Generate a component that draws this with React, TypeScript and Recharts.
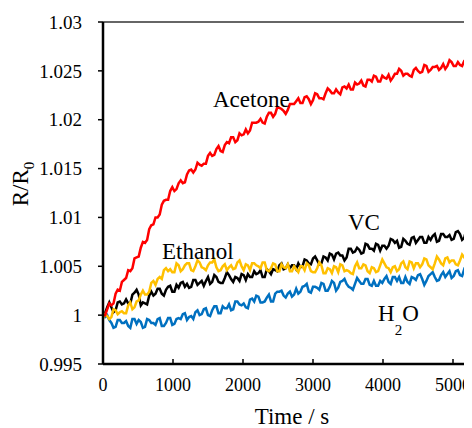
import { LineChart, Line, XAxis, YAxis, ReferenceLine } from 'recharts';

const FONT = '"Liberation Serif", "Times New Roman", serif';

// time in seconds, 30 s sampling
const times = [
  0, 30, 60, 90, 120, 150, 180, 210, 240, 270,
  300, 330, 360, 390, 420, 450, 480, 510, 540, 570,
  600, 630, 660, 690, 720, 750, 780, 810, 840, 870,
  900, 930, 960, 990, 1020, 1050, 1080, 1110, 1140, 1170,
  1200, 1230, 1260, 1290, 1320, 1350, 1380, 1410, 1440, 1470,
  1500, 1530, 1560, 1590, 1620, 1650, 1680, 1710, 1740, 1770,
  1800, 1830, 1860, 1890, 1920, 1950, 1980, 2010, 2040, 2070,
  2100, 2130, 2160, 2190, 2220, 2250, 2280, 2310, 2340, 2370,
  2400, 2430, 2460, 2490, 2520, 2550, 2580, 2610, 2640, 2670,
  2700, 2730, 2760, 2790, 2820, 2850, 2880, 2910, 2940, 2970,
  3000, 3030, 3060, 3090, 3120, 3150, 3180, 3210, 3240, 3270,
  3300, 3330, 3360, 3390, 3420, 3450, 3480, 3510, 3540, 3570,
  3600, 3630, 3660, 3690, 3720, 3750, 3780, 3810, 3840, 3870,
  3900, 3930, 3960, 3990, 4020, 4050, 4080, 4110, 4140, 4170,
  4200, 4230, 4260, 4290, 4320, 4350, 4380, 4410, 4440, 4470,
  4500, 4530, 4560, 4590, 4620, 4650, 4680, 4710, 4740, 4770,
  4800, 4830, 4860, 4890, 4920, 4950, 4980, 5010, 5040, 5070,
  5100, 5130, 5160, 5190, 5220, 5250, 5280,
];

const acetone = [
  1.0000, 1.0000, 1.0006, 1.0012, 1.0010, 1.0012, 1.0022, 1.0026, 1.0025, 1.0034,
  1.0036, 1.0038, 1.0046, 1.0045, 1.0048, 1.0058, 1.0059, 1.0060, 1.0069, 1.0075,
  1.0074, 1.0077, 1.0088, 1.0092, 1.0093, 1.0100, 1.0100, 1.0103, 1.0113, 1.0117,
  1.0118, 1.0118, 1.0127, 1.0131, 1.0127, 1.0129, 1.0135, 1.0138, 1.0135, 1.0136,
  1.0144, 1.0148, 1.0149, 1.0146, 1.0149, 1.0156, 1.0154, 1.0153, 1.0155, 1.0155,
  1.0163, 1.0166, 1.0163, 1.0164, 1.0170, 1.0173, 1.0168, 1.0167, 1.0174, 1.0177,
  1.0176, 1.0182, 1.0182, 1.0177, 1.0179, 1.0186, 1.0184, 1.0185, 1.0190, 1.0186,
  1.0189, 1.0197, 1.0197, 1.0197, 1.0198, 1.0201, 1.0197, 1.0196, 1.0203, 1.0207,
  1.0207, 1.0203, 1.0206, 1.0213, 1.0212, 1.0211, 1.0209, 1.0206, 1.0210, 1.0216,
  1.0216, 1.0216, 1.0219, 1.0222, 1.0217, 1.0217, 1.0223, 1.0224, 1.0221, 1.0216,
  1.0220, 1.0227, 1.0226, 1.0222, 1.0222, 1.0221, 1.0227, 1.0232, 1.0230, 1.0227,
  1.0227, 1.0231, 1.0228, 1.0226, 1.0233, 1.0234, 1.0232, 1.0236, 1.0231, 1.0231,
  1.0238, 1.0236, 1.0237, 1.0240, 1.0235, 1.0234, 1.0241, 1.0241, 1.0239, 1.0245,
  1.0244, 1.0239, 1.0239, 1.0245, 1.0243, 1.0242, 1.0246, 1.0240, 1.0243, 1.0247,
  1.0247, 1.0252, 1.0250, 1.0245, 1.0247, 1.0247, 1.0245, 1.0244, 1.0251, 1.0253,
  1.0250, 1.0248, 1.0249, 1.0256, 1.0255, 1.0249, 1.0251, 1.0254, 1.0254, 1.0255,
  1.0251, 1.0253, 1.0257, 1.0252, 1.0255, 1.0261, 1.0259, 1.0255, 1.0255, 1.0259,
  1.0256, 1.0255, 1.0260, 1.0262, 1.0255, 1.0256, 1.0260,
];

const vc = [
  1.0000, 1.0002, 1.0008, 1.0013, 1.0008, 1.0003, 1.0005, 1.0013, 1.0014, 1.0011,
  1.0012, 1.0016, 1.0012, 1.0012, 1.0021, 1.0023, 1.0026, 1.0021, 1.0010, 1.0013,
  1.0012, 1.0011, 1.0020, 1.0024, 1.0020, 1.0022, 1.0027, 1.0027, 1.0022, 1.0020,
  1.0026, 1.0029, 1.0030, 1.0024, 1.0024, 1.0031, 1.0028, 1.0033, 1.0034, 1.0029,
  1.0032, 1.0028, 1.0029, 1.0036, 1.0036, 1.0031, 1.0033, 1.0035, 1.0030, 1.0035,
  1.0039, 1.0032, 1.0034, 1.0041, 1.0039, 1.0034, 1.0033, 1.0033, 1.0038, 1.0044,
  1.0041, 1.0037, 1.0034, 1.0039, 1.0038, 1.0035, 1.0042, 1.0041, 1.0036, 1.0042,
  1.0039, 1.0039, 1.0045, 1.0042, 1.0043, 1.0046, 1.0039, 1.0039, 1.0047, 1.0045,
  1.0042, 1.0047, 1.0046, 1.0045, 1.0051, 1.0053, 1.0047, 1.0048, 1.0052, 1.0048,
  1.0051, 1.0051, 1.0047, 1.0053, 1.0049, 1.0050, 1.0057, 1.0056, 1.0053, 1.0052,
  1.0058, 1.0060, 1.0056, 1.0052, 1.0053, 1.0060, 1.0059, 1.0056, 1.0063, 1.0062,
  1.0057, 1.0063, 1.0064, 1.0061, 1.0061, 1.0056, 1.0059, 1.0068, 1.0068, 1.0064,
  1.0065, 1.0069, 1.0067, 1.0063, 1.0064, 1.0073, 1.0072, 1.0068, 1.0068, 1.0066,
  1.0073, 1.0072, 1.0066, 1.0071, 1.0071, 1.0068, 1.0071, 1.0078, 1.0077, 1.0074,
  1.0076, 1.0069, 1.0070, 1.0078, 1.0076, 1.0073, 1.0072, 1.0079, 1.0080, 1.0074,
  1.0077, 1.0080, 1.0080, 1.0074, 1.0074, 1.0080, 1.0077, 1.0081, 1.0083, 1.0075,
  1.0076, 1.0083, 1.0083, 1.0080, 1.0080, 1.0082, 1.0077, 1.0078, 1.0085, 1.0086,
  1.0083, 1.0077, 1.0079, 1.0088, 1.0087, 1.0081, 1.0082,
];

const ethanol = [
  0.9997, 1.0001, 0.9999, 0.9996, 0.9998, 1.0006, 1.0005, 1.0001, 1.0003, 1.0004,
  1.0002, 1.0002, 1.0010, 1.0013, 1.0006, 1.0008, 1.0014, 1.0015, 1.0021, 1.0025,
  1.0021, 1.0021, 1.0024, 1.0033, 1.0035, 1.0031, 1.0037, 1.0039, 1.0037, 1.0046,
  1.0048, 1.0045, 1.0047, 1.0044, 1.0044, 1.0053, 1.0051, 1.0045, 1.0047, 1.0051,
  1.0053, 1.0053, 1.0046, 1.0045, 1.0050, 1.0056, 1.0054, 1.0049, 1.0048, 1.0046,
  1.0051, 1.0054, 1.0054, 1.0057, 1.0049, 1.0045, 1.0046, 1.0050, 1.0052, 1.0046,
  1.0049, 1.0051, 1.0047, 1.0048, 1.0054, 1.0056, 1.0050, 1.0046, 1.0052, 1.0051,
  1.0046, 1.0053, 1.0053, 1.0051, 1.0050, 1.0048, 1.0054, 1.0054, 1.0046, 1.0045,
  1.0048, 1.0053, 1.0052, 1.0045, 1.0045, 1.0052, 1.0049, 1.0048, 1.0052, 1.0045,
  1.0045, 1.0050, 1.0047, 1.0044, 1.0050, 1.0050, 1.0046, 1.0053, 1.0051, 1.0045,
  1.0044, 1.0044, 1.0048, 1.0054, 1.0051, 1.0043, 1.0043, 1.0048, 1.0047, 1.0043,
  1.0050, 1.0049, 1.0044, 1.0052, 1.0051, 1.0045, 1.0046, 1.0045, 1.0043, 1.0042,
  1.0050, 1.0054, 1.0048, 1.0048, 1.0052, 1.0051, 1.0045, 1.0043, 1.0049, 1.0048,
  1.0044, 1.0045, 1.0051, 1.0057, 1.0053, 1.0049, 1.0048, 1.0044, 1.0049, 1.0050,
  1.0045, 1.0047, 1.0053, 1.0055, 1.0049, 1.0047, 1.0055, 1.0054, 1.0048, 1.0053,
  1.0053, 1.0049, 1.0052, 1.0058, 1.0057, 1.0051, 1.0049, 1.0047, 1.0053, 1.0060,
  1.0057, 1.0053, 1.0051, 1.0058, 1.0059, 1.0054, 1.0056, 1.0056, 1.0052, 1.0051,
  1.0056, 1.0062, 1.0059, 1.0059, 1.0056, 1.0053, 1.0061,
];

const water = [
  1.0000, 0.9998, 1.0000, 0.9995, 0.9992, 0.9987, 0.9988, 0.9995, 0.9995, 0.9992,
  0.9992, 0.9994, 0.9989, 0.9987, 0.9996, 0.9996, 0.9991, 0.9995, 0.9993, 0.9987,
  0.9988, 0.9996, 0.9995, 0.9992, 0.9992, 0.9990, 0.9996, 0.9997, 0.9989, 0.9989,
  0.9992, 0.9997, 0.9997, 0.9990, 0.9991, 0.9996, 0.9997, 0.9996, 1.0001, 1.0002,
  0.9995, 0.9998, 0.9999, 0.9996, 1.0003, 1.0005, 1.0000, 1.0001, 1.0006, 1.0007,
  1.0000, 0.9999, 1.0005, 1.0009, 1.0009, 1.0002, 1.0002, 1.0009, 1.0007, 1.0007,
  1.0011, 1.0005, 1.0006, 1.0014, 1.0014, 1.0011, 1.0010, 1.0012, 1.0008, 1.0007,
  1.0016, 1.0017, 1.0014, 1.0020, 1.0019, 1.0013, 1.0013, 1.0014, 1.0018, 1.0021,
  1.0014, 1.0014, 1.0022, 1.0024, 1.0024, 1.0025, 1.0020, 1.0018, 1.0022, 1.0024,
  1.0019, 1.0021, 1.0027, 1.0022, 1.0024, 1.0029, 1.0030, 1.0032, 1.0024, 1.0023,
  1.0029, 1.0029, 1.0028, 1.0026, 1.0033, 1.0032, 1.0025, 1.0025, 1.0029, 1.0035,
  1.0033, 1.0025, 1.0028, 1.0034, 1.0035, 1.0037, 1.0032, 1.0029, 1.0028, 1.0026,
  1.0032, 1.0038, 1.0035, 1.0032, 1.0032, 1.0037, 1.0037, 1.0031, 1.0030, 1.0035,
  1.0030, 1.0030, 1.0035, 1.0033, 1.0037, 1.0040, 1.0034, 1.0032, 1.0039, 1.0039,
  1.0035, 1.0039, 1.0033, 1.0033, 1.0039, 1.0034, 1.0032, 1.0039, 1.0038, 1.0036,
  1.0041, 1.0042, 1.0037, 1.0031, 1.0035, 1.0040, 1.0042, 1.0044, 1.0039, 1.0035,
  1.0036, 1.0041, 1.0044, 1.0039, 1.0042, 1.0045, 1.0038, 1.0040, 1.0045, 1.0046,
  1.0041, 1.0040, 1.0047, 1.0045, 1.0039, 1.0039, 1.0044,
];

const xTicks = [0, 1000, 2000, 3000, 4000, 5000, 6000];
const yTicks = [0.995, 1, 1.005, 1.01, 1.015, 1.02, 1.025, 1.03];

const data = times.map((t, i) => ({
  t,
  acetone: acetone[i],
  vc: vc[i],
  ethanol: ethanol[i],
  water: water[i],
}));

// x ticks point inward (up from the axis)
const XTick = (props: any) => {
  const { x, y, payload } = props;
  return (
    <g>
      <line x1={x} x2={x} y1={y} y2={y - 5} stroke="#000" strokeWidth={1.5} />
      <text x={x} y={y + 27} textAnchor="middle" fontFamily={FONT} fontSize={18} fill="#000">
        {payload.value}
      </text>
    </g>
  );
};

export default function App() {
  return (
    <div style={{ position: 'relative', width: 464, height: 420, overflow: 'hidden' }}>
      <LineChart width={560} height={420} data={data} margin={{ top: 14, right: 45, left: 0, bottom: 0 }}>
        <XAxis
          type="number"
          dataKey="t"
          domain={[0, 6000]}
          ticks={xTicks}
          allowDataOverflow
          height={64}
          tickSize={0}
          tickMargin={0}
          tickLine={false}
          axisLine={{ stroke: '#000', strokeWidth: 2.5 }}
          tick={<XTick />}
        />
        <YAxis
          type="number"
          domain={[0.995, 1.03]}
          ticks={yTicks}
          allowDataOverflow
          width={95}
          tickSize={5}
          tickMargin={16}
          tickLine={{ stroke: '#000', strokeWidth: 1.5 }}
          axisLine={{ stroke: '#000', strokeWidth: 2.5 }}
          tick={{ fontFamily: FONT, fontSize: 19, fill: '#000' }}
          tickFormatter={(v: number) => String(v)}
        />
        <ReferenceLine y={1.03} stroke="#333" strokeWidth={1.5} />
        <Line type="linear" dataKey="water" stroke="#0070C0" strokeWidth={2.5} dot={false} isAnimationActive={false} />
        <Line type="linear" dataKey="vc" stroke="#000000" strokeWidth={2.5} dot={false} isAnimationActive={false} />
        <Line type="linear" dataKey="ethanol" stroke="#FFC000" strokeWidth={2.5} dot={false} isAnimationActive={false} />
        <Line type="linear" dataKey="acetone" stroke="#FF0000" strokeWidth={2.5} dot={false} isAnimationActive={false} />
      </LineChart>
      <svg
        width={464}
        height={420}
        style={{ position: 'absolute', left: 0, top: 0, pointerEvents: 'none' }}
        fontFamily={FONT}
        fill="#000"
      >
        <text x={205} y={99} fontSize={23}>Acetone</text>
        <text x={154} y={251} fontSize={23}>Ethanol</text>
        <text x={340} y={222} fontSize={23}>VC</text>
        <text x={370} y={313} fontSize={23}>
          H<tspan fontSize={15} dy={14}>2</tspan><tspan dy={-14}>O</tspan>
        </text>
        <text x={20} y={176} fontSize={23} textAnchor="middle" transform="rotate(-90 20 176)">
          R/R<tspan fontSize={15} dy={6}>0</tspan>
        </text>
        <text x={284} y={416} fontSize={23} textAnchor="middle">Time / s</text>
      </svg>
    </div>
  );
}
